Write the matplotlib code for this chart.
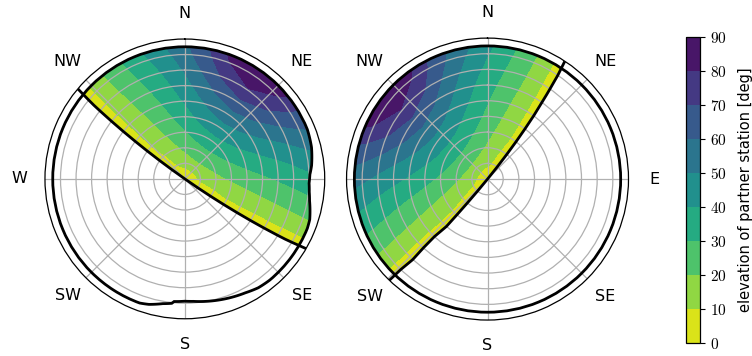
import numpy as np
import matplotlib
matplotlib.use('agg')
import matplotlib.pyplot as plt
from matplotlib.path import Path
from matplotlib.patches import PathPatch

plt.rcParams['mathtext.fontset'] = 'cm'

# zenith angle of the table rows (deg)
radius = [0, 10, 20, 30, 40, 50, 60, 70, 80, 90]
# azimuth offset of the table columns from the partner direction (deg)
offset = [-95, -90, -86, -80, -70, -55, -45, -35, -25, -15, 0, 15, 25, 35, 45, 55, 70, 80, 86, 90, 95]

partner_az_left = 35
partner_az_right = 309

# elevation of the partner station (rows = radius, cols = offset)
elev_left = [
    [0] * 21,
    [-2.4, -0.2, 1.5, 4.1, 8.4, 11.7, 13.0, 14.1, 15.0, 15.6, 16.0, 15.6, 15.0, 14.1, 13.0, 11.7, 8.4, 4.1, 1.5, -0.2, -2.4],
    [-5.3, -0.9, 2.6, 7.8, 12.3, 16.8, 19.5, 21.9, 23.8, 25.2, 26.0, 25.2, 23.8, 21.9, 19.5, 16.8, 12.3, 7.8, 2.6, -0.9, -5.3],
    [-8.6, -2.1, 3.2, 10.4, 14.7, 21.2, 25.3, 29.0, 32.2, 34.6, 36.0, 34.6, 32.2, 29.0, 25.3, 21.2, 14.7, 10.4, 3.2, -2.1, -8.6],
    [-12.4, -3.7, 3.3, 11.2, 16.7, 24.8, 30.2, 35.3, 40.0, 43.7, 46.0, 43.7, 40.0, 35.3, 30.2, 24.8, 16.7, 11.2, 3.3, -3.7, -12.4],
    [-16.7, -5.8, 3.0, 11.8, 18.3, 28.0, 34.4, 40.9, 47.1, 52.4, 56.0, 52.4, 47.1, 40.9, 34.4, 28.0, 18.3, 11.8, 3.0, -5.8, -16.7],
    [-21.4, -8.4, 2.2, 12.3, 19.8, 30.9, 38.3, 45.9, 54.0, 61.5, 67.0, 61.5, 54.0, 45.9, 38.3, 30.9, 19.8, 12.3, 2.2, -8.4, -21.4],
    [-26.5, -11.4, 0.9, 12.7, 21.3, 33.9, 42.0, 51.0, 61.0, 71.0, 79.0, 71.0, 61.0, 51.0, 42.0, 33.9, 21.3, 12.7, 0.9, -11.4, -26.5],
    [-32.0, -14.8, -0.8, 12.9, 22.7, 36.9, 45.8, 56.0, 66.5, 79.0, 88.0, 79.0, 66.5, 56.0, 45.8, 36.9, 22.7, 12.9, -0.8, -14.8, -32.0],
    [-38.0, -18.7, -2.9, 13.1, 24.1, 40.0, 49.7, 59.3, 70.4, 83.6, 89.0, 83.6, 70.4, 59.3, 49.7, 40.0, 24.1, 13.1, -2.9, -18.7, -38.0],
]
elev_right = [
    [0] * 21,
    [-2.4, -0.3, 1.4, 4.0, 8.4, 11.7, 13.0, 14.1, 15.0, 15.6, 16.0, 15.6, 15.0, 14.1, 13.0, 11.7, 8.4, 4.1, 1.5, -0.2, -2.4],
    [-5.3, -1.0, 2.4, 7.6, 12.3, 16.8, 19.5, 21.9, 23.8, 25.2, 26.0, 25.2, 23.8, 21.9, 19.5, 16.8, 12.3, 7.8, 2.5, -0.9, -5.3],
    [-8.6, -2.0, 3.0, 10.2, 14.7, 21.2, 25.3, 29.0, 32.2, 34.6, 36.0, 34.6, 32.2, 29.0, 25.3, 21.2, 14.7, 10.2, 3.0, -2.1, -8.6],
    [-12.4, -3.4, 3.6, 11.2, 16.7, 24.8, 30.2, 35.3, 40.0, 43.7, 46.0, 43.7, 40.0, 35.3, 30.2, 24.8, 16.7, 11.0, 2.8, -3.7, -12.4],
    [-16.7, -6.5, 0.5, 11.0, 18.3, 28.0, 34.4, 40.9, 47.1, 52.4, 56.0, 52.4, 47.1, 40.9, 34.4, 28.0, 18.3, 11.5, 2.2, -5.8, -16.7],
    [-21.4, -9.0, 0.0, 11.5, 19.8, 30.9, 38.3, 45.9, 54.0, 61.5, 67.0, 61.5, 54.0, 45.9, 38.3, 30.9, 19.8, 11.9, 0.8, -8.4, -21.4],
    [-26.5, -11.0, 0.3, 12.0, 21.3, 33.9, 42.0, 51.0, 61.0, 71.0, 79.0, 71.0, 61.0, 51.0, 42.0, 33.9, 21.3, 12.0, -0.6, -11.4, -26.5],
    [-32.0, -14.0, -2.0, 12.9, 22.7, 36.9, 45.8, 56.0, 66.5, 79.0, 88.0, 79.0, 66.5, 56.0, 45.8, 36.9, 22.7, 11.5, -2.0, -14.8, -32.0],
    [-38.0, -18.0, -3.0, 13.1, 24.1, 40.0, 49.7, 59.3, 70.4, 83.6, 89.0, 83.6, 70.4, 59.3, 49.7, 40.0, 24.1, 11.0, -4.5, -18.7, -38.0],
]

# local horizon of each station (azimuth deg, zenith angle deg)
horizon_left_az = [0, 45, 68, 72, 76, 80, 84, 88, 92, 96, 100, 104, 108, 112, 140, 146, 152, 158, 164,
                   170, 176, 180, 185, 186, 190, 196, 200, 225, 270, 315, 360]
horizon_left_r = [85, 85, 85, 84.5, 84, 83, 82, 80.5, 80, 80.5, 81.5, 83, 84.5, 85, 85, 84.5, 83, 82, 81,
                  80, 79, 78.7, 79.2, 80.5, 81.5, 84, 85, 85, 85, 85, 85]
horizon_right_az = [0, 45, 90, 135, 180, 225, 270, 315, 360]
horizon_right_r = [85, 85, 85, 85, 85, 85, 85, 85, 85]

levels = list(range(0, 91, 10))
compass = ['N', 'NE', 'E', 'SE', 'S', 'SW', 'W', 'NW']


def draw_station(ax, partner_az, elev, hz_az, hz_r, hidden):
    theta = np.deg2rad(np.array(offset) + partner_az)
    ax.set_theta_zero_location('N')
    ax.set_theta_direction(-1)
    cs = ax.contourf(theta, radius, elev, levels=levels, cmap='viridis_r')
    verts = np.column_stack([np.deg2rad(hz_az), hz_r])
    clip = PathPatch(Path(verts, _interpolation_steps=40), transform=ax.transData,
                     facecolor='none', edgecolor='none')
    cs.set_clip_path(clip)
    ax.add_patch(PathPatch(Path(verts, _interpolation_steps=40), fill=False,
                           edgecolor='k', linewidth=2, zorder=3))
    ax.contour(theta, radius, elev, levels=[0], colors='k', linewidths=2, zorder=3)
    ax.set_ylim(0, 90)
    ax.set_yticks(range(10, 81, 10))
    ax.set_yticklabels([])
    ax.set_xticks(np.deg2rad(range(0, 360, 45)))
    ax.set_xticklabels([c if c != hidden else '' for c in compass], fontsize=11.5)
    ax.tick_params(axis='x', pad=8)
    ax.grid(color='#b0b0b0', linewidth=0.9)
    ax.spines['polar'].set_linewidth(0.9)
    return cs


fig = plt.figure(figsize=(7.52, 3.56), dpi=100)
ax1 = fig.add_axes([0.0598, 0.104, 0.372, 0.787], projection='polar')
ax2 = fig.add_axes([0.4608, 0.101, 0.375, 0.792], projection='polar')
cs = draw_station(ax1, partner_az_left, elev_left, horizon_left_az, horizon_left_r, 'E')
draw_station(ax2, partner_az_right, elev_right, horizon_right_az, horizon_right_r, 'W')

cax = fig.add_axes([0.9122, 0.0365, 0.0186, 0.8596])
cb = fig.colorbar(cs, cax=cax, ticks=levels)
cb.ax.set_yticklabels(['$%d$' % v for v in levels], fontsize=11)
cb.set_label('elevation of partner station [deg]', fontsize=10.5, labelpad=8)
cb.outline.set_linewidth(0.9)

fig.savefig('out.png', dpi=100)
